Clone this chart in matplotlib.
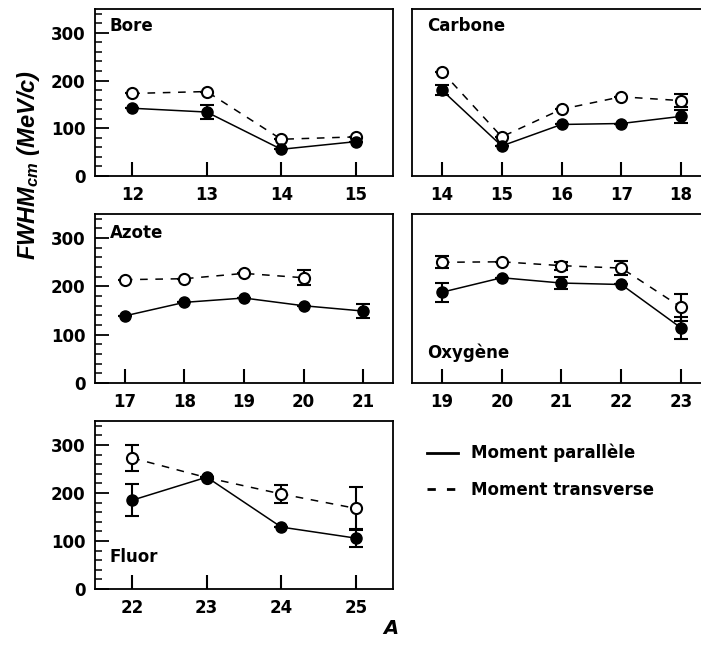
import matplotlib
matplotlib.use("Agg")
import matplotlib.pyplot as plt
from matplotlib.lines import Line2D
from matplotlib.ticker import MultipleLocator

plt.rcParams['font.family'] = ['DejaVu Sans']
plt.rcParams['font.weight'] = 'bold'
plt.rcParams['mathtext.fontset'] = 'custom'
plt.rcParams['mathtext.it'] = 'Liberation Sans:italic:bold'
plt.rcParams['mathtext.rm'] = 'Liberation Sans:bold'
plt.rcParams['mathtext.bf'] = 'Liberation Sans:bold'

# ---------------- data ----------------
bore_A = [12, 13, 14, 15]
bore_par = [142, 134, 56, 72]
bore_par_err = [0, 15, 0, 0]
bore_tr_A = [12, 13, 14, 15]
bore_tr = [173, 177, 77, 82]
bore_tr_err = [0, 0, 0, 0]

carb_A = [14, 15, 16, 17, 18]
carb_par = [180, 63, 108, 110, 125]
carb_par_err = [10, 0, 0, 0, 14]
carb_tr_A = [14, 15, 16, 17, 18]
carb_tr = [219, 82, 140, 166, 158]
carb_tr_err = [0, 0, 0, 0, 14]

azo_A = [17, 18, 19, 20, 21]
azo_par = [139, 167, 176, 160, 149]
azo_par_err = [0, 0, 0, 0, 15]
azo_tr_A = [17, 18, 19, 20]
azo_tr = [214, 216, 227, 218]
azo_tr_err = [0, 0, 0, 15]

oxy_A = [19, 20, 21, 22, 23]
oxy_par = [188, 218, 207, 204, 114]
oxy_par_err = [20, 0, 12, 0, 22]
oxy_tr_A = [19, 20, 21, 22, 23]
oxy_tr = [250, 251, 243, 238, 157]
oxy_tr_err = [12, 0, 8, 15, 28]

flu_A = [22, 23, 24, 25]
flu_par = [185, 233, 129, 106]
flu_par_err = [33, 0, 0, 18]
flu_tr_A = [22, 23, 24, 25]
flu_tr = [273, 232, 198, 168]
flu_tr_err = [28, 0, 18, 45]

panels = [
    ("Bore", bore_A, bore_par, bore_par_err, bore_tr_A, bore_tr, bore_tr_err),
    ("Carbone", carb_A, carb_par, carb_par_err, carb_tr_A, carb_tr, carb_tr_err),
    ("Azote", azo_A, azo_par, azo_par_err, azo_tr_A, azo_tr, azo_tr_err),
    ("Oxygène", oxy_A, oxy_par, oxy_par_err, oxy_tr_A, oxy_tr, oxy_tr_err),
    ("Fluor", flu_A, flu_par, flu_par_err, flu_tr_A, flu_tr, flu_tr_err),
]
label_pos = [(0.05, 0.90), (0.05, 0.90), (0.05, 0.89), (0.05, 0.18), (0.05, 0.19)]
show_yticklabels = [True, False, True, False, True]

# ---------------- layout (pixels) ----------------
W, H = 701, 646
boxes = [  # left, top, right, bottom
    (95, 9, 393, 176),
    (412, 9, 711, 176),
    (95, 214, 393, 383),
    (412, 214, 711, 383),
    (95, 421, 393, 589),
]

fig = plt.figure(figsize=(W / 100, H / 100), dpi=100)

for (name, A, par, par_err, trA, tr, tr_err), (l, t, r, b), lp, showy in zip(
        panels, boxes, label_pos, show_yticklabels):
    ax = fig.add_axes([l / W, 1 - b / H, (r - l) / W, (b - t) / H])
    # transverse (open, dashed)
    ax.plot(trA, tr, color='black', lw=1.1, ls=(0, (5, 5)), zorder=2)
    ax.errorbar(trA, tr, yerr=tr_err, fmt='none', ecolor='black',
                elinewidth=1.5, capsize=5, capthick=1.5, zorder=3)
    ax.plot(trA, tr, ls='none', marker='o', ms=8, mfc='white', mec='black',
            mew=1.5, zorder=4)
    # parallel (filled, solid)
    ax.plot(A, par, color='black', lw=1.1, zorder=5)
    ax.errorbar(A, par, yerr=par_err, fmt='none', ecolor='black',
                elinewidth=1.5, capsize=5, capthick=1.5, zorder=6)
    ax.plot(A, par, ls='none', marker='o', ms=8, mfc='black', mec='black',
            mew=1, zorder=7)

    ax.set_xlim(A[0] - 0.5, A[-1] + 0.5)
    ax.set_ylim(0, 350)
    ax.set_xticks(A)
    ax.set_xticklabels([str(a) for a in A])
    ax.yaxis.set_major_locator(MultipleLocator(100))
    ax.yaxis.set_minor_locator(MultipleLocator(20))
    ax.tick_params(axis='x', direction='in', length=10, width=1.5, pad=7,
                   labelsize=12, top=False)
    if showy:
        ax.tick_params(axis='y', which='major', direction='in', length=10,
                       width=1.3, pad=7, labelsize=12, right=False)
        ax.tick_params(axis='y', which='minor', direction='in', length=5,
                       width=1.1, right=False)
    else:
        ax.tick_params(axis='y', which='both', left=False, right=False,
                       labelleft=False)
    for lab in ax.get_xticklabels() + ax.get_yticklabels():
        lab.set_fontweight('bold')
    for s in ax.spines.values():
        s.set_linewidth(1.3)
    ax.text(lp[0], lp[1], name, transform=ax.transAxes, fontsize=12,
            fontweight='bold', ha='left', va='center')

# y label
fig.text(29 / W, 1 - 165 / H, r'$FWHM_{cm}$ (MeV/c)', rotation=90,
         fontsize=17, fontweight='bold', style='italic',
         family='Liberation Sans', ha='center', va='center')
# x label
fig.text(391 / W, 1 - 629 / H, 'A', fontsize=14, fontweight='bold',
         style='italic', ha='center', va='center')

handles = [Line2D([], [], color='black', lw=2),
           Line2D([], [], color='black', lw=2, ls=(0, (3, 4)))]
fig.legend(handles, ['Moment parallèle', 'Moment transverse'],
           loc='upper left', bbox_to_anchor=(412 / W, 1 - 429 / H),
           frameon=False, prop={'size': 12, 'weight': 'bold'},
           handlelength=1.85, handletextpad=0.8, labelspacing=1.1)

fig.savefig('out.png', dpi=100)
